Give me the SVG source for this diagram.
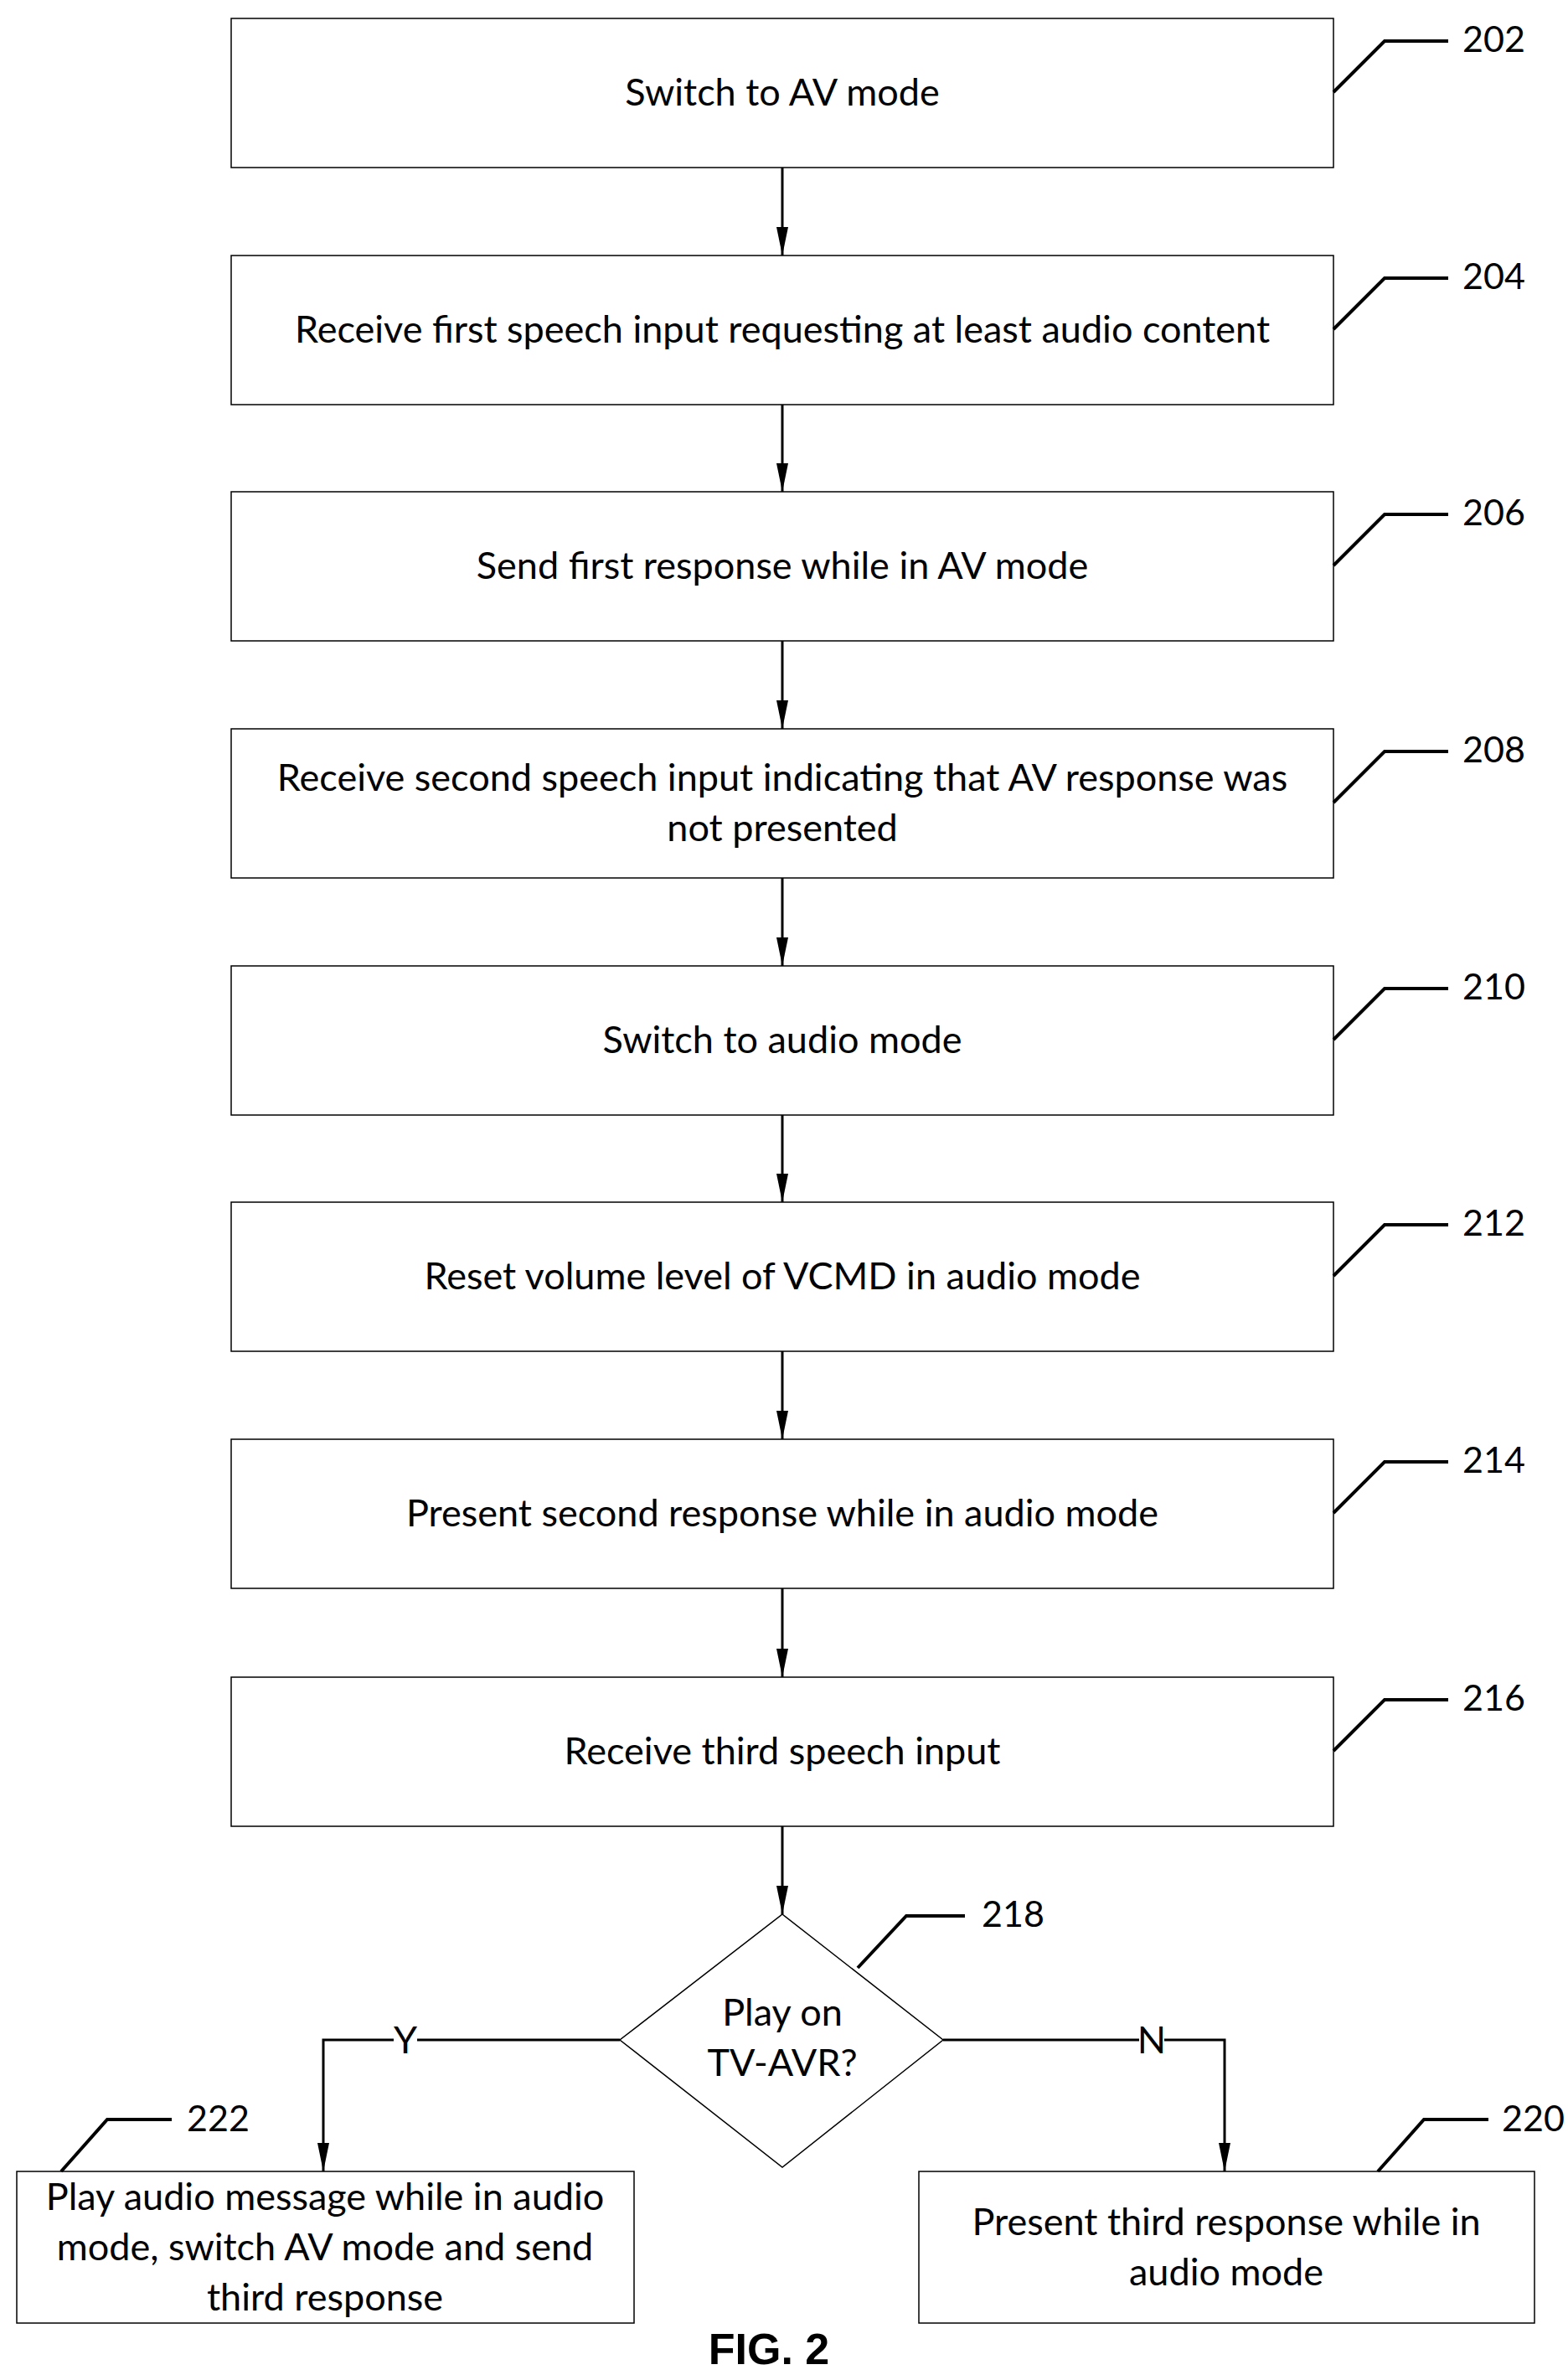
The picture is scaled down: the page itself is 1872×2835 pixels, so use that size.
<svg xmlns="http://www.w3.org/2000/svg" width="1872" height="2835" viewBox="0 0 1872 2835">
<style>
.b{fill:#fff;stroke:#000;stroke-width:1.5}
.t{font-family:Lato,"Liberation Sans",sans-serif;font-size:45px;text-anchor:middle;fill:#000}
.n{font-family:Lato,"Liberation Sans",sans-serif;font-size:43px;fill:#000}
.l{fill:none;stroke:#000;stroke-width:4}
.c{fill:none;stroke:#000;stroke-width:3}
</style>
<defs>
<marker id="h" markerWidth="34" markerHeight="14" refX="34" refY="7" orient="auto" markerUnits="userSpaceOnUse"><path d="M0,0 L34,7 L0,14 z" fill="#000"/></marker></defs>
<rect width="1872" height="2835" fill="#fff"/>
<g id="connectors">
<line class="c" x1="934" y1="200" x2="934" y2="305" marker-end="url(#h)"/>
<line class="c" x1="934" y1="483" x2="934" y2="587" marker-end="url(#h)"/>
<line class="c" x1="934" y1="765" x2="934" y2="870" marker-end="url(#h)"/>
<line class="c" x1="934" y1="1048" x2="934" y2="1153" marker-end="url(#h)"/>
<line class="c" x1="934" y1="1331" x2="934" y2="1435" marker-end="url(#h)"/>
<line class="c" x1="934" y1="1613" x2="934" y2="1718" marker-end="url(#h)"/>
<line class="c" x1="934" y1="1896" x2="934" y2="2002" marker-end="url(#h)"/>
<line class="c" x1="934" y1="2180" x2="934" y2="2285" marker-end="url(#h)"/>
<polyline class="c" points="740,2435 386,2435 386,2592" marker-end="url(#h)"/>
<polyline class="c" points="1126,2435 1462,2435 1462,2592" marker-end="url(#h)"/>
<rect x="470" y="2412" width="28" height="44" fill="#fff"/>
<text class="t" x="484" y="2451">Y</text>
<rect x="1360" y="2412" width="30" height="44" fill="#fff"/>
<text class="t" x="1375" y="2451">N</text>
</g>
<g id="n202"><rect class="b" x="276" y="22" width="1316" height="178"/><text class="t" x="934" y="126">Switch to AV mode</text><polyline class="l" points="1592,110 1653,49 1729,49"/><text class="n" x="1746" y="62">202</text></g>
<g id="n204"><rect class="b" x="276" y="305" width="1316" height="178"/><text class="t" x="934" y="409">Receive first speech input requesting at least audio content</text><polyline class="l" points="1592,393 1653,332 1729,332"/><text class="n" x="1746" y="345">204</text></g>
<g id="n206"><rect class="b" x="276" y="587" width="1316" height="178"/><text class="t" x="934" y="691">Send first response while in AV mode</text><polyline class="l" points="1592,675 1653,614 1729,614"/><text class="n" x="1746" y="627">206</text></g>
<g id="n208"><rect class="b" x="276" y="870" width="1316" height="178"/><text class="t" x="934" y="944">Receive second speech input indicating that AV response was</text><text class="t" x="934" y="1004">not presented</text><polyline class="l" points="1592,958 1653,897 1729,897"/><text class="n" x="1746" y="910">208</text></g>
<g id="n210"><rect class="b" x="276" y="1153" width="1316" height="178"/><text class="t" x="934" y="1257">Switch to audio mode</text><polyline class="l" points="1592,1241 1653,1180 1729,1180"/><text class="n" x="1746" y="1193">210</text></g>
<g id="n212"><rect class="b" x="276" y="1435" width="1316" height="178"/><text class="t" x="934" y="1539">Reset volume level of VCMD in audio mode</text><polyline class="l" points="1592,1523 1653,1462 1729,1462"/><text class="n" x="1746" y="1475">212</text></g>
<g id="n214"><rect class="b" x="276" y="1718" width="1316" height="178"/><text class="t" x="934" y="1822">Present second response while in audio mode</text><polyline class="l" points="1592,1806 1653,1745 1729,1745"/><text class="n" x="1746" y="1758">214</text></g>
<g id="n216"><rect class="b" x="276" y="2002" width="1316" height="178"/><text class="t" x="934" y="2106">Receive third speech input</text><polyline class="l" points="1592,2090 1653,2029 1729,2029"/><text class="n" x="1746" y="2042">216</text></g>
<g id="n218"><polygon class="b" points="934,2285 1126,2435 934,2587 740,2435"/><text class="t" x="934" y="2418">Play on</text><text class="t" x="934" y="2478">TV-AVR?</text><polyline class="l" points="1024,2349 1082,2287 1152,2287"/><text class="n" x="1172" y="2300">218</text></g>
<g id="n222"><rect class="b" x="20" y="2592" width="737" height="181"/><text class="t" x="388" y="2638">Play audio message while in audio</text><text class="t" x="388" y="2698">mode, switch AV mode and send</text><text class="t" x="388" y="2758">third response</text><polyline class="l" points="73,2592 128,2530 205,2530"/><text class="n" x="223" y="2544">222</text></g>
<g id="n220"><rect class="b" x="1097" y="2592" width="735" height="181"/><text class="t" x="1464" y="2668">Present third response while in</text><text class="t" x="1464" y="2728">audio mode</text><polyline class="l" points="1645,2592 1700,2530 1777,2530"/><text class="n" x="1793" y="2544">220</text></g>
<text x="918" y="2822" style="font-family:'Liberation Sans',Arial,sans-serif;font-size:52px;font-weight:bold;text-anchor:middle">FIG. 2</text>
</svg>
